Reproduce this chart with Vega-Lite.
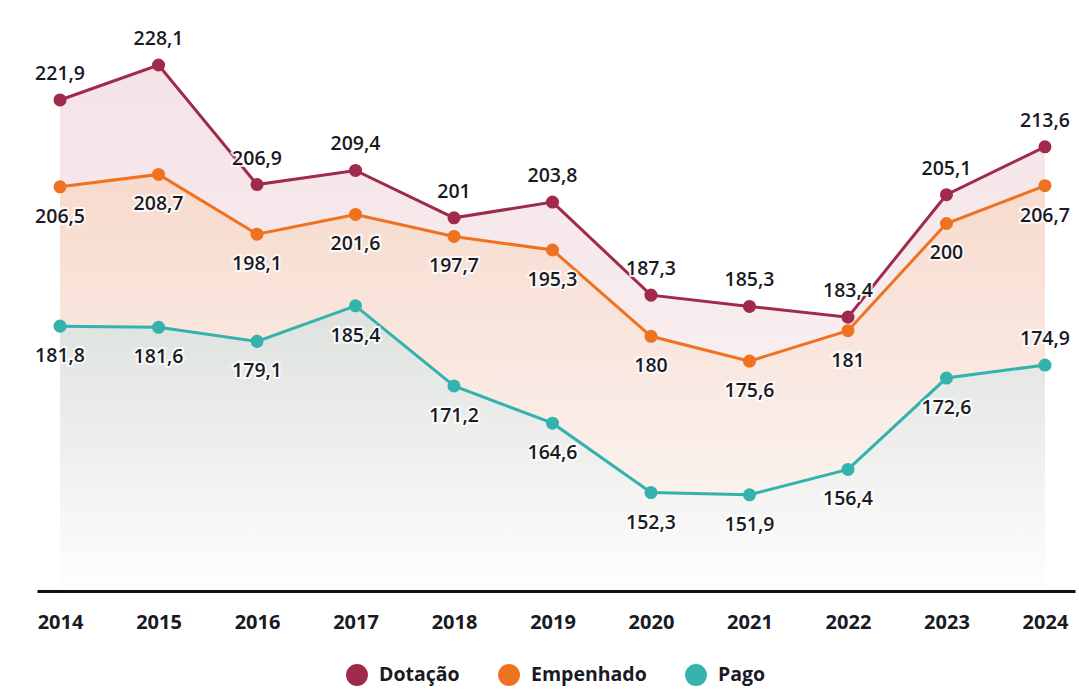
{
  "$schema": "https://vega.github.io/schema/vega-lite/v6.json",
  "autosize": "none",
  "width": 1038,
  "height": 571,
  "padding": {"left": 37, "top": 20, "right": 4, "bottom": 100},
  "background": "white",
  "config": {
    "view": {"stroke": null},
    "locale": {"number": {"decimal": ",", "thousands": ".", "grouping": [3], "currency": ["R$", ""]}},
    "font": "Open Sans",
    "legend": {
      "title": null, "orient": "bottom", "direction": "horizontal",
      "layout": {"bottom": {"anchor": "middle"}},
      "symbolType": "circle", "symbolSize": 480, "symbolStrokeWidth": 0, "symbolOpacity": 1,
      "labelFontSize": 19.5, "labelFontWeight": "bold", "labelColor": "#1a1a24",
      "labelFont": "Open Sans", "columnPadding": 38, "offset": 32, "labelOffset": 11
    }
  },
  "data": {
    "values": [
      {"ano": 2014, "serie": "Dotação", "valor": 221.9},
      {"ano": 2015, "serie": "Dotação", "valor": 228.1},
      {"ano": 2016, "serie": "Dotação", "valor": 206.9},
      {"ano": 2017, "serie": "Dotação", "valor": 209.4},
      {"ano": 2018, "serie": "Dotação", "valor": 201},
      {"ano": 2019, "serie": "Dotação", "valor": 203.8},
      {"ano": 2020, "serie": "Dotação", "valor": 187.3},
      {"ano": 2021, "serie": "Dotação", "valor": 185.3},
      {"ano": 2022, "serie": "Dotação", "valor": 183.4},
      {"ano": 2023, "serie": "Dotação", "valor": 205.1},
      {"ano": 2024, "serie": "Dotação", "valor": 213.6},
      {"ano": 2014, "serie": "Empenhado", "valor": 206.5},
      {"ano": 2015, "serie": "Empenhado", "valor": 208.7},
      {"ano": 2016, "serie": "Empenhado", "valor": 198.1},
      {"ano": 2017, "serie": "Empenhado", "valor": 201.6},
      {"ano": 2018, "serie": "Empenhado", "valor": 197.7},
      {"ano": 2019, "serie": "Empenhado", "valor": 195.3},
      {"ano": 2020, "serie": "Empenhado", "valor": 180},
      {"ano": 2021, "serie": "Empenhado", "valor": 175.6},
      {"ano": 2022, "serie": "Empenhado", "valor": 181},
      {"ano": 2023, "serie": "Empenhado", "valor": 200},
      {"ano": 2024, "serie": "Empenhado", "valor": 206.7},
      {"ano": 2014, "serie": "Pago", "valor": 181.8},
      {"ano": 2015, "serie": "Pago", "valor": 181.6},
      {"ano": 2016, "serie": "Pago", "valor": 179.1},
      {"ano": 2017, "serie": "Pago", "valor": 185.4},
      {"ano": 2018, "serie": "Pago", "valor": 171.2},
      {"ano": 2019, "serie": "Pago", "valor": 164.6},
      {"ano": 2020, "serie": "Pago", "valor": 152.3},
      {"ano": 2021, "serie": "Pago", "valor": 151.9},
      {"ano": 2022, "serie": "Pago", "valor": 156.4},
      {"ano": 2023, "serie": "Pago", "valor": 172.6},
      {"ano": 2024, "serie": "Pago", "valor": 174.9}
    ]
  },
  "encoding": {
    "x": {
      "field": "ano", "type": "quantitative",
      "scale": {"domain": [2013.766, 2024.305], "nice": false, "zero": false},
      "axis": {
        "values": [2014, 2015, 2016, 2017, 2018, 2019, 2020, 2021, 2022, 2023, 2024],
        "format": "d", "title": null, "grid": false, "ticks": false,
        "domainColor": "#111111", "domainWidth": 3,
        "labelFontSize": 20, "labelFontWeight": "bold", "labelColor": "#1a1a24",
        "labelPadding": 21, "labelFont": "Open Sans"
      }
    },
    "y": {
      "field": "valor", "type": "quantitative",
      "scale": {"domain": [134.84, 236.08], "nice": false, "zero": false},
      "axis": null
    }
  },
  "layer": [
    {
      "transform": [{"filter": "datum.serie === 'Dotação'"}],
      "mark": {"type": "area", "fill": {"gradient": "linear", "x1": 0, "y1": 0, "x2": 0, "y2": 1,
        "stops": [{"offset": 0, "color": "#f4e2e7"}, {"offset": 1, "color": "#fbf6f6"}]}},
      "encoding": {"y2": {"datum": 135.9}}
    },
    {
      "transform": [{"filter": "datum.serie === 'Empenhado'"}],
      "mark": {"type": "area", "fill": {"gradient": "linear", "x1": 0, "y1": 0, "x2": 0, "y2": 1,
        "stops": [{"offset": 0, "color": "#f7dacd"}, {"offset": 0.6, "color": "#faece6"}, {"offset": 1, "color": "#fcf8f6"}]}},
      "encoding": {"y2": {"datum": 135.9}}
    },
    {
      "transform": [{"filter": "datum.serie === 'Pago'"}],
      "mark": {"type": "area", "fill": {"gradient": "linear", "x1": 0, "y1": 0, "x2": 0, "y2": 1,
        "stops": [{"offset": 0, "color": "#dde2de"}, {"offset": 0.5, "color": "#eeefed"}, {"offset": 1, "color": "#fdfdfd"}]}},
      "encoding": {"y2": {"datum": 135.9}}
    },
    {
      "mark": {"type": "line", "strokeWidth": 3},
      "encoding": {
        "color": {"field": "serie", "type": "nominal",
          "scale": {"domain": ["Dotação", "Empenhado", "Pago"], "range": ["#a02a4a", "#ef7220", "#33b2ae"]}}
      }
    },
    {
      "mark": {"type": "point", "filled": true, "size": 170, "opacity": 1},
      "encoding": {
        "color": {"field": "serie", "type": "nominal",
          "scale": {"domain": ["Dotação", "Empenhado", "Pago"], "range": ["#a02a4a", "#ef7220", "#33b2ae"]}}
      }
    },
    {
      "transform": [{"filter": "datum.serie === 'Dotação' || (datum.serie === 'Pago' && datum.ano === 2024)"}],
      "mark": {"type": "text", "dy": -26, "fontSize": 19.5, "fontWeight": 600, "stroke": "white", "strokeWidth": 4, "fill": "white", "strokeOpacity": 0.8},
      "encoding": {"text": {"field": "valor", "type": "quantitative", "format": ".1~f"}}
    },
    {
      "transform": [{"filter": "datum.serie === 'Dotação' || (datum.serie === 'Pago' && datum.ano === 2024)"}],
      "mark": {"type": "text", "dy": -26, "fontSize": 19.5, "fontWeight": 600, "fill": "#1a1a24"},
      "encoding": {"text": {"field": "valor", "type": "quantitative", "format": ".1~f"}}
    },
    {
      "transform": [{"filter": "datum.serie === 'Empenhado' || (datum.serie === 'Pago' && datum.ano !== 2024)"}],
      "mark": {"type": "text", "dy": 30, "fontSize": 19.5, "fontWeight": 600, "stroke": "white", "strokeWidth": 4, "fill": "white", "strokeOpacity": 0.8},
      "encoding": {"text": {"field": "valor", "type": "quantitative", "format": ".1~f"}}
    },
    {
      "transform": [{"filter": "datum.serie === 'Empenhado' || (datum.serie === 'Pago' && datum.ano !== 2024)"}],
      "mark": {"type": "text", "dy": 30, "fontSize": 19.5, "fontWeight": 600, "fill": "#1a1a24"},
      "encoding": {"text": {"field": "valor", "type": "quantitative", "format": ".1~f"}}
    }
  ]
}
